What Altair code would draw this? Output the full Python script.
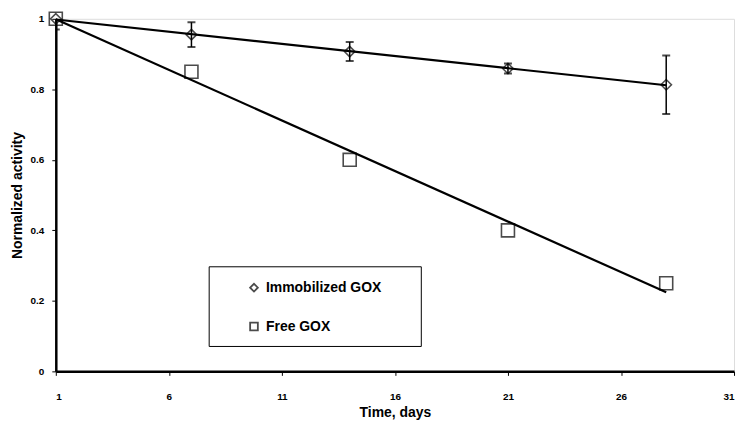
import altair as alt
import pandas as pd

days = [1, 7, 14, 21, 28]
immobilized = [1.0, 0.955, 0.907, 0.859, 0.813]
immobilized_err = [0.03, 0.035, 0.027, 0.014, 0.083]
free = [1.0, 0.85, 0.60, 0.40, 0.25]
series_names = ["Immobilized GOX", "Free GOX"]
x_ticks = [1, 6, 11, 16, 21, 26, 31]
y_ticks = [0, 0.2, 0.4, 0.6, 0.8, 1.0]

FONT = "Liberation Sans"

rows = []
for d, v, e in zip(days, immobilized, immobilized_err):
    rows.append({"day": d, "val": v, "lo": v - e, "hi": v + e, "series": series_names[0]})
for d, v in zip(days, free):
    rows.append({"day": d, "val": v, "lo": v, "hi": v, "series": series_names[1]})
df = pd.DataFrame(rows)

xs = alt.Scale(domain=[1, 31], nice=False, zero=False)
ys = alt.Scale(domain=[0, 1], nice=False)

xax = alt.Axis(values=x_ticks, title="Time, days", grid=False, labelFont=FONT,
               labelFontWeight="bold", labelFontSize=10, labelPadding=16, tickSize=4,
               titleFont=FONT, titleFontWeight="bold", titleFontSize=14,
               titleY=41, titleBaseline="middle",
               domainColor="black", domainWidth=2.5, tickColor="black", labelColor="black",
               titleColor="black")
yax = alt.Axis(values=y_ticks, format="~g", title="Normalized activity", grid=False,
               labelFont=FONT, labelFontWeight="bold", labelFontSize=10, labelPadding=8,
               tickSize=4, titleFont=FONT, titleFontWeight="bold", titleFontSize=14,
               titleX=-38, titleY=177, titleAngle=-90, titleBaseline="middle",
               domainColor="black", domainWidth=2.5, tickColor="black", labelColor="black",
               titleColor="black")

legend = alt.Legend(title=None, orient="none", legendX=192, legendY=263,
                    labelFont=FONT, labelFontWeight="bold", labelFontSize=14,
                    labelColor="black", symbolSize=60, symbolStrokeColor="black",
                    symbolStrokeWidth=1.8, symbolFillColor="white",
                    rowPadding=23, labelOffset=5, padding=0)
shape_scale = alt.Scale(domain=series_names, range=["diamond", "square"])

base = alt.Chart(df)

lines = base.transform_regression("day", "val", groupby=["series"]).mark_line(
    color="black", strokeWidth=2.2
).encode(
    x=alt.X("day:Q", scale=xs, axis=xax),
    y=alt.Y("val:Q", scale=ys, axis=yax),
    detail="series:N",
)

imm = base.transform_filter(alt.datum.series == series_names[0])
fre = base.transform_filter(alt.datum.series == series_names[1])

err_rule = imm.mark_rule(color="black", strokeWidth=1.5, clip=True).encode(
    x="day:Q", y="lo:Q", y2="hi:Q"
)
cap_lo = imm.mark_tick(color="black", thickness=2, size=8, orient="horizontal", clip=True).encode(
    x="day:Q", y="lo:Q"
)
cap_hi = imm.mark_tick(color="black", thickness=2, size=8, orient="horizontal", clip=True).encode(
    x="day:Q", y="hi:Q"
)

pts_imm = imm.mark_point(filled=False, color="black", strokeWidth=1.6, size=110).encode(
    x="day:Q", y="val:Q",
    shape=alt.Shape("series:N", scale=shape_scale, legend=legend),
)
pts_free = fre.mark_point(filled=False, color="black", strokeWidth=1.6, size=170).encode(
    x="day:Q", y="val:Q",
    shape=alt.Shape("series:N", scale=shape_scale, legend=legend),
)

legend_box = alt.Chart(pd.DataFrame({"a": [0]})).mark_rect(
    fill="white", stroke="black", strokeWidth=1
).encode(
    x=alt.value(154), x2=alt.value(367), y=alt.value(249), y2=alt.value(329)
)

chart = alt.layer(legend_box, lines, err_rule, cap_lo, cap_hi, pts_imm, pts_free).properties(
    width=681, height=354, autosize=alt.AutoSizeParams(type="none"),
    padding={"left": 48, "top": 10, "right": 8, "bottom": 52}
).configure_view(stroke="black", strokeWidth=1.5).configure(background="white")

chart.save("out.html", embed_options={"renderer": "svg", "actions": False})
